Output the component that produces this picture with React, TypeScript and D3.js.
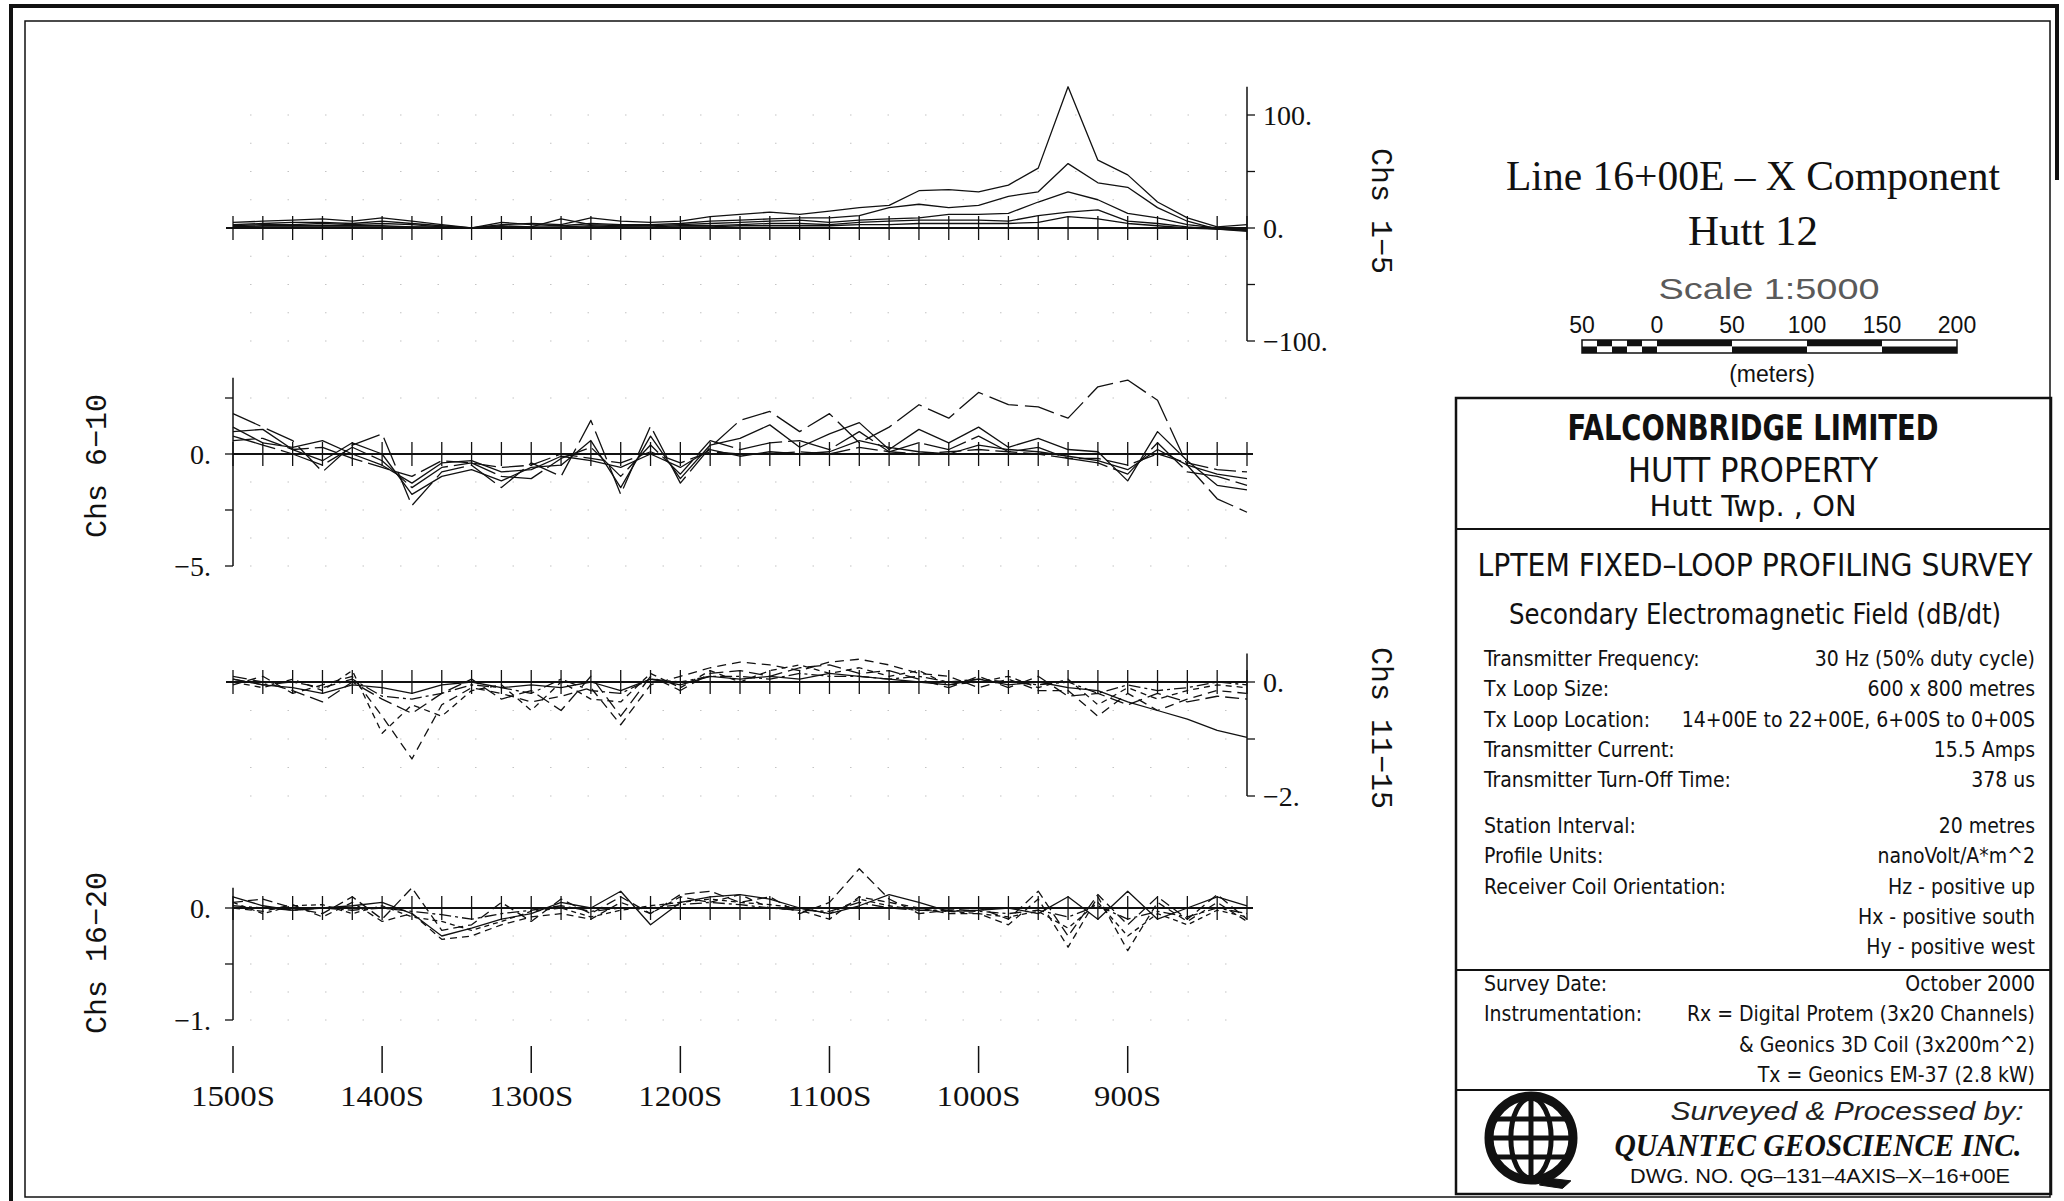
import React, { useEffect } from 'react';
import * as d3 from 'd3';

// Survey stations along Line 16+00E (metres south)
const STATIONS = [1500, 1480, 1460, 1440, 1420, 1400, 1380, 1360, 1340, 1320, 1300, 1280, 1260, 1240, 1220, 1200, 1180, 1160, 1140, 1120, 1100, 1080, 1060, 1040, 1020, 1000, 980, 960, 940, 920, 900, 880, 860, 840, 820];
const LABELLED_STATIONS = [1500, 1400, 1300, 1200, 1100, 1000, 900];
const STATION_LABELS = ['1500S', '1400S', '1300S', '1200S', '1100S', '1000S', '900S'];

// Channels 1-5
const CH1 = [5, 6, 7, 8, 6, 9, 6, 3, 0, 3, 4, 3, 9, 6, 5, 6, 10, 12, 14, 12, 15, 18, 20, 33, 34, 32, 38, 53, 125, 60, 47, 23, 9, 1, 3];
const CH2 = [3, 4, 5, 5, 4, 6, 4, 2, 0, 5, 3, 2, 4, 3, 3, 4, 6, 7, 8, 9, 9, 11, 18, 21, 18, 20, 28, 32, 57, 40, 36, 18, 6, -1, -3];
const CH3 = [2, 3, 3, 4, 3, 4, 3, 1, 0, 2, 1, 8, 3, 2, 2, 3, 4, 5, 6, 7, 5, 7, 8, 9, 12, 12, 13, 23, 32, 25, 13, 9, 3, 0, -2];
const CH4 = [1, 2, 2, 2, 2, 2, 1, 1, 0, 1, 1, 1, 2, 1, 1, 2, 2, 3, 4, 4, 3, 5, 6, 7, 7, 7, 6, 11, 14, 16, 6, 4, 1, -1, -2];
const CH5 = [1, 1, 1, 1, 1, 1, 1, 0, 0, 1, 0, 0, 1, 1, 0, 1, 1, 2, 2, 2, 2, 3, 3, 4, 4, 4, 4, 5, 10, 8, 4, 2, 0, -1, -1];

// Channels 6-10
const CH6 = [1.8, 1.2, 0.6, -0.8, 0.4, 0.9, -2.3, -0.8, -0.5, -1.5, -0.4, -1.0, 1.5, -1.8, 1.25, -1.3, 0.3, 1.5, 1.9, 1.0, 1.8, 0.5, 1.2, 2.2, 1.6, 2.75, 2.2, 2.1, 1.6, 3.0, 3.3, 2.4, -0.5, -2.0, -2.6];
const CH7 = [1.0, 1.1, 0.2, -0.3, 0.5, 0.0, -1.8, -1.0, -0.7, -1.2, -0.6, -0.5, 0.6, -1.5, 0.8, -1.1, 0.4, 0.7, 1.3, 0.3, 0.9, 1.4, 0.2, 1.1, 0.5, 1.2, 0.3, 0.7, 0.2, 0.1, -1.2, 1.0, -0.3, -1.4, -1.6];
const CH8 = [0.8, 0.4, 0.0, -0.5, 0.3, -0.3, -1.5, -0.6, -0.4, -1.0, -1.1, -0.2, 0.3, -1.0, 0.4, -0.9, 0.6, 0.2, 0.5, 0.6, 0.2, 1.0, 0.1, 0.5, 0.2, 0.8, 0.1, 0.3, -0.2, -0.4, -0.9, 0.5, -0.8, -1.0, -1.4];
const CH9 = [1.2, 0.5, 0.3, 0.6, 0.0, -0.5, -1.3, -0.4, -0.3, -0.8, -0.7, -0.1, -0.3, -0.6, 0.0, -0.6, 0.2, -0.1, 0.1, 0.0, 0.1, 0.6, 0.3, 0.1, 0.0, 0.4, 0.2, 0.1, -0.1, -0.3, -0.7, 0.2, -0.5, -0.9, -1.1];
const CH10 = [0.6, 0.7, 0.2, 0.3, -0.2, -0.6, -1.0, -0.3, -0.4, -0.6, -0.5, 0.0, -0.2, -0.4, 0.1, -0.4, 0.1, 0.0, 0.0, 0.1, 0.0, 0.3, 0.1, 0.0, 0.1, 0.2, 0.1, 0.0, -0.2, -0.2, -0.5, 0.0, -0.4, -0.7, -0.8];

// Channels 11-15
const CH11 = [0.05, -0.05, -0.1, -0.2, -0.05, -0.1, -0.2, -0.05, 0.0, -0.1, -0.05, -0.1, 0.0, -0.15, 0.05, -0.05, 0.1, 0.05, 0.1, 0.05, 0.15, 0.1, 0.05, 0.0, -0.05, 0.05, -0.05, 0.0, -0.1, -0.15, -0.35, -0.5, -0.65, -0.85, -0.97];
const CH12 = [0.1, 0.0, -0.15, -0.35, 0.0, -0.3, -0.55, -0.2, 0.05, -0.3, -0.15, -0.5, 0.1, -0.6, 0.1, -0.15, 0.15, 0.2, 0.1, 0.25, 0.3, 0.15, 0.2, 0.05, -0.1, 0.1, -0.1, 0.1, -0.25, -0.2, -0.4, -0.2, -0.35, -0.25, -0.3];
const CH13 = [-0.05, 0.1, -0.2, -0.05, 0.1, -0.6, -1.35, -0.4, -0.1, -0.2, -0.35, -0.25, -0.1, -0.75, -0.05, 0.1, 0.25, 0.35, 0.3, 0.2, 0.35, 0.4, 0.3, 0.15, 0.1, -0.1, 0.05, -0.15, -0.15, -0.6, -0.2, -0.5, -0.3, -0.15, -0.2];
const CH14 = [0.0, -0.1, 0.05, -0.15, 0.2, -0.9, -0.4, -0.6, -0.15, -0.05, -0.5, 0.0, -0.3, -0.35, 0.15, -0.1, 0.2, 0.0, 0.2, 0.3, 0.15, 0.25, 0.1, 0.2, -0.05, 0.0, 0.1, -0.1, 0.05, -0.4, -0.1, -0.3, -0.15, -0.05, -0.1];
const CH15 = [0.05, -0.05, 0.0, -0.1, 0.05, -0.25, -0.3, -0.2, -0.05, -0.1, -0.2, 0.05, -0.15, -0.2, 0.05, 0.0, 0.1, 0.1, 0.05, 0.15, 0.1, 0.1, 0.05, 0.1, 0.0, 0.05, 0.0, -0.05, 0.0, -0.2, -0.05, -0.15, -0.1, 0.0, -0.05];

// Channels 16-20
const CH16 = [0.1, 0.02, -0.02, 0.0, 0.02, 0.05, -0.05, -0.25, -0.18, -0.1, -0.05, 0.05, 0.0, 0.15, -0.15, 0.05, 0.1, 0.12, 0.08, 0.0, -0.05, 0.02, 0.12, 0.05, -0.03, -0.02, 0.0, -0.05, 0.1, -0.1, 0.15, -0.1, 0.0, 0.1, 0.02];
const CH17 = [0.05, 0.08, 0.0, -0.05, 0.1, -0.1, 0.18, -0.2, -0.15, 0.05, -0.12, 0.08, -0.05, 0.1, -0.05, 0.12, 0.15, 0.05, 0.1, -0.05, 0.05, 0.35, 0.08, -0.05, -0.02, 0.0, -0.1, 0.15, -0.25, 0.12, -0.15, 0.1, -0.1, 0.12, -0.1];
const CH18 = [0.0, -0.03, 0.03, -0.08, 0.05, -0.12, -0.05, -0.28, -0.25, -0.15, -0.08, -0.05, -0.1, 0.05, -0.05, 0.1, 0.05, 0.12, 0.0, -0.02, -0.1, 0.1, 0.05, 0.0, -0.05, -0.05, -0.15, 0.08, -0.35, 0.1, -0.38, 0.05, -0.12, 0.05, -0.12];
const CH19 = [0.05, -0.05, 0.02, 0.03, -0.05, 0.02, -0.08, -0.12, -0.2, -0.12, -0.03, 0.0, -0.08, -0.02, 0.02, 0.05, 0.08, 0.05, 0.03, 0.0, -0.05, 0.08, 0.02, -0.02, -0.03, -0.05, -0.08, -0.03, -0.18, 0.05, -0.25, -0.05, -0.15, -0.02, -0.08];
const CH20 = [0.02, 0.0, -0.02, 0.0, -0.02, 0.0, -0.03, -0.06, -0.1, -0.05, -0.02, 0.02, -0.03, 0.0, 0.0, 0.03, 0.05, 0.03, 0.0, -0.02, -0.03, 0.05, 0.0, -0.02, -0.02, -0.03, -0.05, -0.02, -0.08, 0.02, -0.1, -0.03, -0.08, 0.0, -0.05];

// Axis ticks and labels per panel
const P1_TICKS = [100, 50, 0, -50, -100];
const P1_LABELS = [100, 0, -100];
const P1_GRID = [100, 75, 50, 25, -25, -50, -75, -100];
const P2_TICKS = [2.5, 0, -2.5, -5];
const P2_LABELS = [0, -5];
const P2_GRID = [2.5, -1.25, -2.5, -3.75, -5];
const P3_TICKS = [0, -1, -2];
const P3_LABELS = [0, -2];
const P3_GRID = [-0.5, -1, -1.5, -2];
const P4_TICKS = [0, -0.5, -1];
const P4_LABELS = [0, -1];
const P4_GRID = [-0.25, -0.5, -0.75, -1];

// Scale bar (metres)
const SCALE_TICKS = [-50, 0, 50, 100, 150, 200];
const SCALE_LABELS = ['50', '0', '50', '100', '150', '200'];
const SCALE_FINE = [-50, -40, -30, -20, -10, 0];
const SCALE_COARSE = [0, 50, 100, 150, 200];

// Survey parameters
const INFO_A_LABELS = ['Transmitter Frequency:', 'Tx Loop Size:', 'Tx Loop Location:', 'Transmitter Current:', 'Transmitter Turn-Off Time:'];
const INFO_A_VALUES = ['30 Hz (50% duty cycle)', '600 x 800 metres', '14+00E to 22+00E, 6+00S to 0+00S', '15.5 Amps', '378 us'];
const INFO_B_LABELS = ['Station Interval:', 'Profile Units:', 'Receiver Coil Orientation:', '', ''];
const INFO_B_VALUES = ['20 metres', 'nanoVolt/A*m^2', 'Hz - positive up', 'Hx - positive south', 'Hy - positive west'];
const INFO_C_LABELS = ['Survey Date:', 'Instrumentation:', '', ''];
const INFO_C_VALUES = ['October 2000', 'Rx = Digital Protem (3x20 Channels)', '& Geonics 3D Coil (3x200m^2)', 'Tx = Geonics EM-37 (2.8 kW)'];

const INK = '#111';
const SERIF = "'Liberation Serif', 'DejaVu Serif', serif";
const MONO = "'Liberation Mono', 'DejaVu Sans Mono', monospace";
const NARROW = "'Liberation Sans Narrow', 'DejaVu Sans Condensed', 'Liberation Sans', sans-serif";
const SANS = "'Liberation Sans', 'DejaVu Sans', sans-serif";

const x = d3.scaleLinear().domain([1500, 820]).range([233, 1247]);

type PanelSpec = {
  channels: number[][];
  domain: [number, number];
  range: [number, number];
  top: number;
  side: 'left' | 'right';
  ticks: number[];
  labels: number[];
  grid: number[];
  title: string;
  titleX: number;
  titleY: number;
  baseFrom: number;
  baseTo: number;
  dashes: string[];
};

const PANELS: PanelSpec[] = [
  {
    channels: [CH1, CH2, CH3, CH4, CH5], domain: [-100, 100], range: [341, 115], top: 125, side: 'right',
    ticks: P1_TICKS, labels: P1_LABELS, grid: P1_GRID, title: 'Chs 1-5', titleX: 1382, titleY: 211,
    baseFrom: 226, baseTo: 1247, dashes: ['', '', '', '', ''],
  },
  {
    channels: [CH6, CH7, CH8, CH9, CH10], domain: [-5, 0], range: [566, 454], top: 3.4, side: 'left',
    ticks: P2_TICKS, labels: P2_LABELS, grid: P2_GRID, title: 'Chs 6-10', titleX: 95, titleY: 466,
    baseFrom: 233, baseTo: 1253, dashes: ['30 7', '', '44 6', '', '22 6'],
  },
  {
    channels: [CH11, CH12, CH13, CH14, CH15], domain: [-2, 0], range: [796, 682], top: 0.5, side: 'right',
    ticks: P3_TICKS, labels: P3_LABELS, grid: P3_GRID, title: 'Chs 11-15', titleX: 1382, titleY: 728,
    baseFrom: 226, baseTo: 1247, dashes: ['', '14 6', '9 6', '6 5', '12 4 3 4'],
  },
  {
    channels: [CH16, CH17, CH18, CH19, CH20], domain: [-1, 0], range: [1020, 908], top: 0.18, side: 'left',
    ticks: P4_TICKS, labels: P4_LABELS, grid: P4_GRID, title: 'Chs 16-20', titleX: 95, titleY: 953,
    baseFrom: 233, baseTo: 1253, dashes: ['', '10 5', '7 5', '5 4', '12 4 3 4'],
  },
];

function fmt(v: number) {
  return `${v < 0 ? '\u2212' : ''}${Math.abs(v)}.`;
}

function Panel({ p }: { p: PanelSpec }) {
  const y = d3.scaleLinear().domain(p.domain).range(p.range);
  const line = d3.line<number>().x((_, i) => x(STATIONS[i])).y((d) => y(d));
  const axisX = p.side === 'right' ? x(820) : x(1500);
  const dir = p.side === 'right' ? 1 : -1;
  const y0 = y(0);
  const rot = p.side === 'right' ? 90 : -90;
  return (
    <g>
      {p.grid.map((g) => (
        <line key={`g${g}`} x1={250} x2={1240} y1={y(g)} y2={y(g)} stroke="#c4c4c4" strokeWidth={1.2} strokeDasharray="1.5 36" />
      ))}
      <line x1={p.baseFrom} x2={p.baseTo} y1={y0} y2={y0} stroke={INK} strokeWidth={1.8} />
      {STATIONS.map((s) => (
        <line key={`s${s}`} x1={x(s)} x2={x(s)} y1={y0 - 12} y2={y0 + 12} stroke={INK} strokeWidth={1.3} />
      ))}
      <line x1={axisX} x2={axisX} y1={y(p.top)} y2={y(p.domain[0])} stroke={INK} strokeWidth={1.5} />
      {p.ticks.map((t) => (
        <line key={`t${t}`} x1={axisX} x2={axisX + dir * 8} y1={y(t)} y2={y(t)} stroke={INK} strokeWidth={1.3} />
      ))}
      {p.labels.map((t) => (
        <text key={`l${t}`} x={axisX + dir * (p.side === 'right' ? 16 : 22)} y={y(t)} dy="0.36em"
          textAnchor={p.side === 'right' ? 'start' : 'end'} fontFamily={SERIF} fontSize={28} fill={INK}>
          {fmt(t)}
        </text>
      ))}
      {p.channels.map((c, k) => (
        <path key={`c${k}`} d={line(c) || ''} fill="none" stroke={INK} strokeWidth={1.3}
          strokeDasharray={p.dashes[k] || undefined} strokeLinejoin="round" />
      ))}
      <text transform={`translate(${p.titleX},${p.titleY}) rotate(${rot})`} textAnchor="middle" dy="0.35em"
        fontFamily={MONO} fontSize={30} fill={INK}>
        {p.title.replace('-', '\u2212')}
      </text>
    </g>
  );
}

function Globe({ cx, cy, r }: { cx: number; cy: number; r: number }) {
  return (
    <g stroke={INK} fill="none">
      <circle cx={cx} cy={cy} r={r} strokeWidth={9} />
      <ellipse cx={cx} cy={cy} rx={r * 0.48} ry={r - 2} strokeWidth={5} />
      <line x1={cx} x2={cx} y1={cy - r} y2={cy + r} strokeWidth={5} />
      <line x1={cx - r} x2={cx + r} y1={cy} y2={cy} strokeWidth={5} />
      <line x1={cx - r * 0.88} x2={cx + r * 0.88} y1={cy - r * 0.45} y2={cy - r * 0.45} strokeWidth={5} />
      <line x1={cx - r * 0.88} x2={cx + r * 0.88} y1={cy + r * 0.45} y2={cy + r * 0.45} strokeWidth={5} />
      <path d={`M${cx + r * 0.35},${cy + r * 0.95} L${cx + r * 0.95},${cy + r * 1.02} L${cx + r * 0.75},${cy + r * 1.2} L${cx + r * 0.2},${cy + r * 1.12} Z`} fill={INK} strokeWidth={1} />
    </g>
  );
}

export default function App() {
  useEffect(() => {
    document.body.style.margin = '0';
    document.body.style.overflow = 'hidden';
  }, []);

  const sb = d3.scaleLinear().domain([-50, 200]).range([1582, 1957]);
  const barTop = 340;
  const barMid = 346.5;
  const barBot = 353;

  const rowsA = [666, 696, 727, 757, 787];
  const rowsB = [833, 863, 894, 924, 954];
  const rowsC = [991, 1021, 1052, 1082];
  const infoLeft = 1484;
  const infoRight = 2035;

  const infoRows = (labels: string[], values: string[], ys: number[], key: string) =>
    labels.map((l, i) => (
      <g key={`${key}${i}`}>
        {l && <text x={infoLeft} y={ys[i]} fontFamily={NARROW} fontSize={21} fill={INK}>{l}</text>}
        <text x={infoRight} y={ys[i]} textAnchor="end" fontFamily={NARROW} fontSize={21} fill={INK}>{values[i]}</text>
      </g>
    ));

  return (
    <div style={{ position: 'absolute', left: 0, top: 0 }}>
      <svg width={2064} height={1201} style={{ display: 'block', background: '#fff' }}>
        {/* drawing frame */}
        <path d="M2057,180 L2057,6 L11,6 L11,1201" fill="none" stroke={INK} strokeWidth={4} />
        <rect x={25} y={21} width={2025} height={1176} fill="none" stroke={INK} strokeWidth={1.5} />

        {PANELS.map((p, i) => <Panel key={i} p={p} />)}

        {/* station axis */}
        {LABELLED_STATIONS.map((s, i) => (
          <g key={`x${s}`}>
            <line x1={x(s)} x2={x(s)} y1={1046} y2={1073} stroke={INK} strokeWidth={1.5} />
            <text x={x(s)} y={1106} textAnchor="middle" fontFamily={SERIF} fontSize={30} fill={INK}
              textLength={STATION_LABELS[i].length * 16.8} lengthAdjust="spacingAndGlyphs">{STATION_LABELS[i]}</text>
          </g>
        ))}

        {/* title block */}
        <text x={1753} y={190} textAnchor="middle" fontFamily={SERIF} fontSize={42} fill={INK} textLength={494} lengthAdjust="spacingAndGlyphs">
          Line 16+00E {'\u2013'} X Component
        </text>
        <text x={1753} y={245} textAnchor="middle" fontFamily={SERIF} fontSize={42} fill={INK} textLength={130} lengthAdjust="spacingAndGlyphs">
          Hutt 12
        </text>
        <text x={1769} y={299} textAnchor="middle" fontFamily={SANS} fontSize={30} fill="#5a5a5a" textLength={221} lengthAdjust="spacingAndGlyphs">
          Scale 1:5000
        </text>
        {SCALE_TICKS.map((t, i) => (
          <text key={`sl${i}`} x={sb(t)} y={333} textAnchor="middle" fontFamily={SANS} fontSize={23} fill={INK}>{SCALE_LABELS[i]}</text>
        ))}
        {SCALE_FINE.slice(0, -1).map((t, i) => (
          <g key={`sf${i}`}>
            <rect x={sb(t)} y={barTop} width={sb(SCALE_FINE[i + 1]) - sb(t)} height={barMid - barTop} fill={i % 2 ? INK : '#fff'} />
            <rect x={sb(t)} y={barMid} width={sb(SCALE_FINE[i + 1]) - sb(t)} height={barBot - barMid} fill={i % 2 ? '#fff' : INK} />
          </g>
        ))}
        {SCALE_COARSE.slice(0, -1).map((t, i) => (
          <g key={`sc${i}`}>
            <rect x={sb(t)} y={barTop} width={sb(SCALE_COARSE[i + 1]) - sb(t)} height={barMid - barTop} fill={i % 2 ? '#fff' : INK} />
            <rect x={sb(t)} y={barMid} width={sb(SCALE_COARSE[i + 1]) - sb(t)} height={barBot - barMid} fill={i % 2 ? INK : '#fff'} />
          </g>
        ))}
        <rect x={sb(-50)} y={barTop} width={sb(200) - sb(-50)} height={barBot - barTop} fill="none" stroke={INK} strokeWidth={1.5} />
        <text x={1772} y={382} textAnchor="middle" fontFamily={SANS} fontSize={23} fill={INK}>(meters)</text>

        {/* information box */}
        <rect x={1456} y={398} width={595} height={796} fill="none" stroke={INK} strokeWidth={2.5} />
        <line x1={1456} x2={2051} y1={529} y2={529} stroke={INK} strokeWidth={2} />
        <line x1={1456} x2={2051} y1={970} y2={970} stroke={INK} strokeWidth={2} />
        <line x1={1456} x2={2051} y1={1090} y2={1090} stroke={INK} strokeWidth={2} />

        <text x={1753} y={440} textAnchor="middle" fontFamily={NARROW} fontWeight="bold" fontSize={36} fill={INK} textLength={371} lengthAdjust="spacingAndGlyphs">FALCONBRIDGE LIMITED</text>
        <text x={1753} y={482} textAnchor="middle" fontFamily={NARROW} fontSize={33} fill={INK} textLength={250} lengthAdjust="spacingAndGlyphs">HUTT PROPERTY</text>
        <text x={1753} y={516} textAnchor="middle" fontFamily={NARROW} fontSize={29} fill={INK} textLength={207} lengthAdjust="spacingAndGlyphs">Hutt Twp. , ON</text>

        <text x={1755} y={576} textAnchor="middle" fontFamily={NARROW} fontSize={32} fill={INK} textLength={555} lengthAdjust="spacingAndGlyphs">LPTEM FIXED{'\u2013'}LOOP PROFILING SURVEY</text>
        <text x={1755} y={624} textAnchor="middle" fontFamily={NARROW} fontSize={28} fill={INK} textLength={492} lengthAdjust="spacingAndGlyphs">Secondary Electromagnetic Field (dB/dt)</text>

        {infoRows(INFO_A_LABELS, INFO_A_VALUES, rowsA, 'a')}
        {infoRows(INFO_B_LABELS, INFO_B_VALUES, rowsB, 'b')}
        {infoRows(INFO_C_LABELS, INFO_C_VALUES, rowsC, 'c')}

        <Globe cx={1531} cy={1138} r={42} />
        <text x={1847} y={1120} textAnchor="middle" fontFamily={SANS} fontStyle="italic" fontSize={25} fill="#222" textLength={353} lengthAdjust="spacingAndGlyphs">Surveyed &amp; Processed by:</text>
        <text x={1818} y={1156} textAnchor="middle" fontFamily={SERIF} fontStyle="italic" fontWeight="bold" fontSize={32} fill={INK} textLength={407} lengthAdjust="spacingAndGlyphs">QUANTEC GEOSCIENCE INC.</text>
        <text x={1820} y={1183} textAnchor="middle" fontFamily={SANS} fontSize={20} fill={INK} textLength={380} lengthAdjust="spacingAndGlyphs">DWG. NO. QG{'\u2013'}131{'\u2013'}4AXIS{'\u2013'}X{'\u2013'}16+00E</text>
      </svg>
    </div>
  );
}
